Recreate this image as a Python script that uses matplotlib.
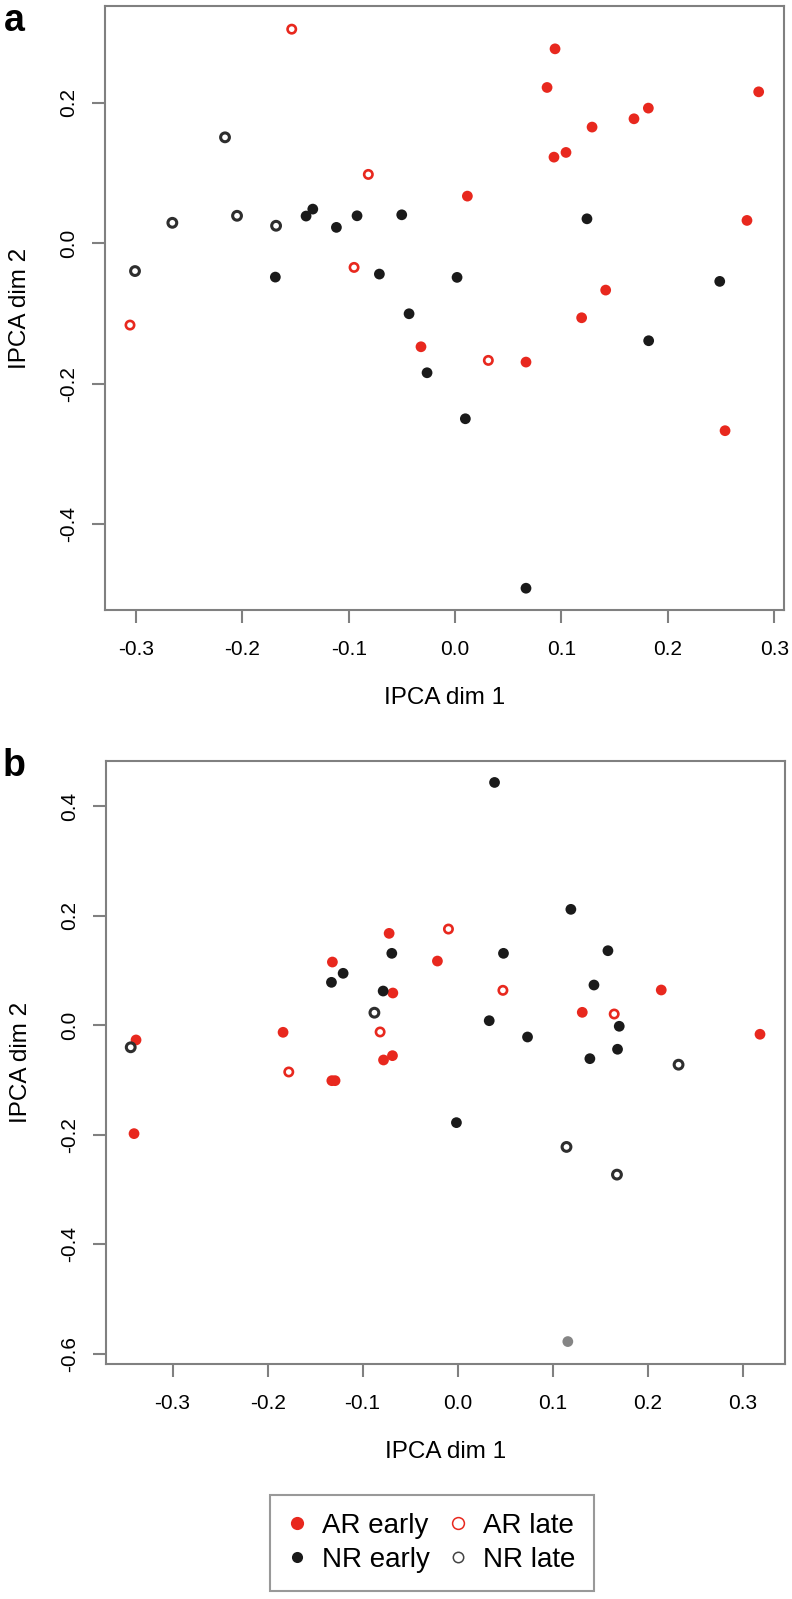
"""IPCA score plots, panels a and b."""
import matplotlib

matplotlib.use("Agg")  # headless
import matplotlib.pyplot as plt  # noqa: E402
from matplotlib.lines import Line2D  # noqa: E402

plt.rcParams["font.family"] = ["Liberation Sans", "DejaVu Sans"]

RED = "#E8281E"
BLACK = "#1a1a1a"
GREY_EDGE = "#2e2e2e"
SPINE = "#808080"

# ---- panel a ----
a_ar_early_x = [0.094, 0.0865, 0.2854, 0.1817, 0.1682, 0.1288, 0.1043, 0.093,
                0.0116, 0.2744, 0.1416, 0.119, -0.032, 0.0667, 0.2538]
a_ar_early_y = [0.277, 0.222, 0.2158, 0.1926, 0.1774, 0.1656, 0.1295, 0.1228,
                0.0673, 0.0327, -0.0665, -0.1059, -0.1472, -0.169, -0.2667]
a_ar_late_x = [-0.1535, -0.0815, -0.0949, -0.3055, 0.0313]
a_ar_late_y = [0.305, 0.0982, -0.0342, -0.1163, -0.1666]
a_nr_early_x = [-0.140, -0.1337, -0.1115, -0.0921, -0.0501, -0.1689, -0.0711,
                0.124, 0.0019, 0.2488, -0.0432, 0.182, -0.0263, 0.0097, 0.0667]
a_nr_early_y = [0.0389, 0.0488, 0.0228, 0.0393, 0.0407, -0.048, -0.0437,
                0.035, -0.0484, -0.0541, -0.1002, -0.1386, -0.1842, -0.2497, -0.491]
a_nr_late_x = [-0.2162, -0.2657, -0.2049, -0.1682, -0.3008]
a_nr_late_y = [0.151, 0.0293, 0.0393, 0.0251, -0.0394]

# ---- panel b ----
b_ar_early_x = [-0.0721, -0.1318, -0.0213, -0.0682, -0.1837, -0.0686, -0.078,
                -0.3384, -0.1324, -0.129, -0.3405, 0.2142, 0.1311, 0.3181]
b_ar_early_y = [0.168, 0.1156, 0.1174, 0.059, -0.0128, -0.0555, -0.0634,
                -0.0268, -0.1012, -0.1012, -0.198, 0.0645, 0.0237, -0.0164]
b_ar_late_x = [-0.0097, 0.0476, -0.0816, -0.1777, 0.1647]
b_ar_late_y = [0.1759, 0.0639, -0.0122, -0.0853, 0.0206]
b_nr_early_x = [0.0388, 0.1191, -0.0693, 0.0482, 0.1581, -0.1205, -0.1328,
                -0.0784, 0.0332, 0.0735, 0.1434, 0.17, 0.1682, 0.1391, -0.0013]
b_nr_early_y = [0.4438, 0.2119, 0.1315, 0.1315, 0.1363, 0.095, 0.0785, 0.0626,
                0.0084, -0.0214, 0.0736, -0.0018, -0.0438, -0.061, -0.1779]
b_nr_late_x = [-0.0876, -0.344, 0.2324, 0.1145, 0.1676]
b_nr_late_y = [0.023, -0.0402, -0.072, -0.2223, -0.2729]
b_grey_x = [0.1159]
b_grey_y = [-0.578]

x_ticks = [-0.3, -0.2, -0.1, 0.0, 0.1, 0.2, 0.3]
a_y_ticks = [-0.4, -0.2, 0.0, 0.2]
b_y_ticks = [-0.6, -0.4, -0.2, 0.0, 0.2, 0.4]

W, H = 792, 1599
fig = plt.figure(figsize=(W / 100, H / 100), dpi=100)


def px_axes(left, top, right, bottom):
    return fig.add_axes([left / W, 1 - bottom / H, (right - left) / W, (bottom - top) / H])


def style(ax, yticks):
    for s in ax.spines.values():
        s.set_color(SPINE)
        s.set_linewidth(1.5)
    ax.set_xticks(x_ticks)
    ax.set_xticklabels([f"{t:.1f}" for t in x_ticks])
    ax.set_yticks(yticks)
    ax.set_yticklabels([f"{t:.1f}" for t in yticks])
    ax.tick_params(direction="out", length=9.5, width=1.5, color=SPINE,
                   labelsize=15, labelcolor="black")
    ax.tick_params(axis="x", pad=12)
    ax.tick_params(axis="y", pad=10, labelrotation=90)
    for lab in ax.get_yticklabels():
        lab.set_va("center")
    ax.set_xlabel("IPCA dim 1", fontsize=17.5)
    ax.set_ylabel("IPCA dim 2", fontsize=17.5)
    ax.xaxis.set_label_coords(0.5, -88 / 604)
    ax.xaxis.label.set_va("center")
    ax.yaxis.set_label_coords(-85 / 679, 0.5)
    ax.yaxis.label.set_va("center")


def draw(ax, are_x, are_y, arl_x, arl_y, nre_x, nre_y, nrl_x, nrl_y):
    ax.scatter(are_x, are_y, s=60, color=RED, edgecolor="none", zorder=3)
    ax.scatter(nre_x, nre_y, s=60, color=BLACK, edgecolor="none", zorder=3)
    ax.scatter(arl_x, arl_y, s=36, facecolor="none", edgecolor=RED,
               linewidth=1.9, zorder=3)
    ax.scatter(nrl_x, nrl_y, s=40, facecolor="none", edgecolor=GREY_EDGE,
               linewidth=2.2, zorder=3)


ax_a = px_axes(105, 6, 784, 610)
draw(ax_a, a_ar_early_x, a_ar_early_y, a_ar_late_x, a_ar_late_y,
     a_nr_early_x, a_nr_early_y, a_nr_late_x, a_nr_late_y)
ax_a.set_xlim(-0.329, 0.3092)
ax_a.set_ylim(-0.522, 0.338)
style(ax_a, a_y_ticks)

ax_b = px_axes(106, 761, 785, 1364)
draw(ax_b, b_ar_early_x, b_ar_early_y, b_ar_late_x, b_ar_late_y,
     b_nr_early_x, b_nr_early_y, b_nr_late_x, b_nr_late_y)
ax_b.scatter(b_grey_x, b_grey_y, s=60, color="#858585", edgecolor="none", zorder=3)
ax_b.set_xlim(-0.370, 0.3444)
ax_b.set_ylim(-0.619, 0.483)
style(ax_b, b_y_ticks)

fig.text(4 / W, 1 - 3 / H, "a", fontsize=27, fontweight="bold", va="top", ha="left")
fig.text(3 / W, 1 - 748 / H, "b", fontsize=27, fontweight="bold", va="top", ha="left")

handles = [
    Line2D([], [], ls="none", marker="o", ms=9.5, mfc=RED, mec="none"),
    Line2D([], [], ls="none", marker="o", ms=8, mfc=BLACK, mec="none"),
    Line2D([], [], ls="none", marker="o", ms=8.5, mfc="none", mec=RED, mew=1.1),
    Line2D([], [], ls="none", marker="o", ms=7.5, mfc="none", mec="#444444", mew=1.1),
]
labels = ["AR early", "NR early", "AR late", "NR late"]
leg = fig.legend(handles, labels, ncol=2, loc="center",
                 bbox_to_anchor=(432 / W, 1 - 1543 / H), fontsize=20,
                 frameon=True, fancybox=False, edgecolor=SPINE,
                 handlelength=0.6, handletextpad=0.62, columnspacing=0.68,
                 borderpad=0.65, labelspacing=0.28)
leg.get_frame().set_linewidth(1.5)

fig.savefig("out.png", dpi=100)
plt.close(fig)
